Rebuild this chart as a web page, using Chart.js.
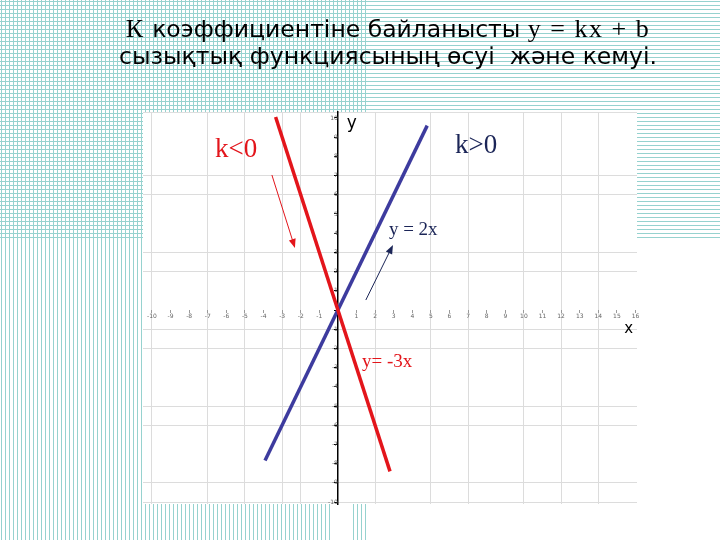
<!DOCTYPE html>
<html>
<head>
<meta charset="utf-8">
<script src="https://cdn.jsdelivr.net/npm/chart.js@4.4.0/dist/chart.umd.min.js"></script>
<style>
html, body { margin: 0; padding: 0; background: #fff; }
#marco { width: 720px; height: 540px; }
</style>
</head>
<body>
<div id="marco"><canvas id="grafico"></canvas></div>
<script>
// Rectas (extremos de cada segmento)
const rojaX = [-3.35, 2.8];
const rojaY = [10.05, -8.4];
const azulX = [-3.92, 4.8];
const azulY = [-7.84, 9.6];

// Valores donde se ve la cuadrícula gris
const cuadX = [-10, -7, -5, -3, -2, 2, 5, 7, 10, 12, 14];
const cuadY = [7, 6, 3, 2, -1, -2, -5, -6, -9, -10];

// Textos
const titulo1 = [['К', 'serif'], [' коэффициентіне байланысты ', 'sans'], ['y = kx + b', 'serif']];
const titulo2 = 'сызықтық функциясының өсуі  және кемуі.';

const ROJO = '#e3151b';
const AZUL = '#3d3b9e';
const MARINO = '#1b2557';
const SERIF = '"Liberation Serif", "DejaVu Serif", serif';
const SANS = '"DejaVu Sans", "Noto Sans", sans-serif';

// Etiquetas y flechas (en unidades de los ejes)
const notas = [
    { texto: 'k<0', x: -6.61, y: 7.97, color: ROJO, fuente: '27px ' + SERIF },
    { texto: 'k>0', x: 6.29, y: 8.18, color: MARINO, fuente: '27px ' + SERIF },
    { texto: 'y = 2x', x: 2.74, y: 3.9, color: MARINO, fuente: '19px ' + SERIF },
    { texto: 'y= -3x', x: 1.29, y: -2.97, color: ROJO, fuente: '19px ' + SERIF },
    { texto: 'y', x: 0.48, y: 9.48, color: '#000', fuente: '17px ' + SANS },
    { texto: 'x', x: 15.4, y: -1.2, color: '#000', fuente: '15px ' + SANS }
];
const flechas = [
    { desde: [-3.55, 7.03], hasta: [-2.31, 3.23], color: ROJO },
    { desde: [1.5, 0.52], hasta: [2.96, 3.39], color: MARINO }
];

function puntos(xs, ys) {
    return xs.map((x, i) => ({ x: x, y: ys[i] }));
}

// Fondo cuadriculado de la diapositiva
const fondo = {
    id: 'fondo',
    beforeDraw(chart) {
        const ctx = chart.ctx;
        const a = chart.chartArea;
        ctx.save();
        ctx.fillStyle = '#fff';
        ctx.fillRect(0, 0, chart.width, chart.height);
        ctx.strokeStyle = '#96d2cf';
        ctx.lineWidth = 1;
        ctx.beginPath();
        for (let x = 1.5; x < 368; x += 4) {
            if (x > 331 && x < 353) {
                ctx.moveTo(x, 0); ctx.lineTo(x, a.top);
            } else {
                ctx.moveTo(x, 0); ctx.lineTo(x, chart.height);
            }
        }
        for (let y = 1.5; y < 241; y += 4) {
            ctx.moveTo(0, y); ctx.lineTo(chart.width, y);
        }
        ctx.stroke();
        ctx.fillStyle = '#fff';
        ctx.fillRect(a.left, a.top, a.right - a.left, a.bottom - a.top);
        ctx.strokeStyle = '#dedede';
        ctx.beginPath();
        ctx.moveTo(a.left, a.top + 0.5); ctx.lineTo(a.right, a.top + 0.5);
        ctx.stroke();
        ctx.restore();
    }
};

// Título, etiquetas y flechas
const textos = {
    id: 'textos',
    afterDraw(chart) {
        const ctx = chart.ctx;
        const sx = chart.scales.x, sy = chart.scales.y;
        ctx.save();
        ctx.textBaseline = 'alphabetic';
        ctx.fillStyle = '#000';

        // primera línea del título con dos fuentes
        const fuentes = { serif: '26px ' + SERIF, sans: '23.5px ' + SANS };
        const espacio = { serif: '1.5px', sans: '0px' };
        let ancho = 0;
        titulo1.forEach(([t, f]) => {
            ctx.font = fuentes[f];
            ctx.letterSpacing = espacio[f];
            ancho += ctx.measureText(t).width;
        });
        let x = 388 - ancho / 2;
        titulo1.forEach(([t, f]) => {
            ctx.font = fuentes[f];
            ctx.letterSpacing = espacio[f];
            ctx.textAlign = 'left';
            ctx.fillText(t, x, 37);
            x += ctx.measureText(t).width;
        });
        ctx.letterSpacing = '0px';
        ctx.font = '23.5px ' + SANS;
        ctx.textAlign = 'center';
        ctx.fillText(titulo2, 388, 64);

        ctx.textAlign = 'left';
        notas.forEach(n => {
            ctx.font = n.fuente;
            ctx.fillStyle = n.color;
            ctx.fillText(n.texto, sx.getPixelForValue(n.x), sy.getPixelForValue(n.y));
        });

        flechas.forEach(f => {
            const x1 = sx.getPixelForValue(f.desde[0]), y1 = sy.getPixelForValue(f.desde[1]);
            const x2 = sx.getPixelForValue(f.hasta[0]), y2 = sy.getPixelForValue(f.hasta[1]);
            const ang = Math.atan2(y2 - y1, x2 - x1);
            ctx.strokeStyle = f.color;
            ctx.fillStyle = f.color;
            ctx.lineWidth = 1;
            ctx.beginPath();
            ctx.moveTo(x1, y1);
            ctx.lineTo(x2 - 6 * Math.cos(ang), y2 - 6 * Math.sin(ang));
            ctx.stroke();
            ctx.beginPath();
            ctx.moveTo(x2, y2);
            ctx.lineTo(x2 - 9 * Math.cos(ang) + 3.5 * Math.sin(ang), y2 - 9 * Math.sin(ang) - 3.5 * Math.cos(ang));
            ctx.lineTo(x2 - 9 * Math.cos(ang) - 3.5 * Math.sin(ang), y2 - 9 * Math.sin(ang) + 3.5 * Math.cos(ang));
            ctx.closePath();
            ctx.fill();
        });
        ctx.restore();
    }
};

function colorCuad(lista) {
    return ctx => (ctx.tick && lista.includes(ctx.tick.value)) ? '#dcdcdc' : 'rgba(0,0,0,0)';
}

new Chart(document.getElementById('grafico'), {
    type: 'line',
    data: {
        datasets: [
            {
                label: 'y = -3x',
                data: puntos(rojaX, rojaY),
                borderColor: ROJO,
                borderWidth: 3.5,
                pointRadius: 0,
                fill: false
            },
            {
                label: 'y = 2x',
                data: puntos(azulX, azulY),
                borderColor: AZUL,
                borderWidth: 3.5,
                pointRadius: 0,
                fill: false
            }
        ]
    },
    options: {
        responsive: true,
        maintainAspectRatio: false,
        animation: false,
        layout: { padding: { left: 143, top: 112, right: 83, bottom: 36 } },
        plugins: { legend: { display: false }, tooltip: { enabled: false } },
        scales: {
            x: {
                type: 'linear',
                min: -10.48,
                max: 16.08,
                position: { y: 0 },
                border: { display: false },
                grid: { color: colorCuad(cuadX), tickColor: '#9a9a9a', tickLength: 3 },
                ticks: {
                    stepSize: 1,
                    includeBounds: false,
                    autoSkip: false,
                    maxRotation: 0,
                    padding: 0,
                    font: { size: 6, family: SANS },
                    color: '#666',
                    callback: v => v === 0 ? '' : v
                }
            },
            y: {
                type: 'linear',
                min: -10.1,
                max: 10.31,
                position: { x: 0 },
                border: { display: true, color: '#000', width: 1.5 },
                grid: { color: colorCuad(cuadY), tickColor: '#000', tickLength: 3 },
                ticks: {
                    stepSize: 1,
                    includeBounds: false,
                    autoSkip: false,
                    padding: 1,
                    font: { size: 6, family: SANS },
                    color: '#666',
                    callback: v => v === 0 ? '' : v
                }
            }
        }
    },
    plugins: [fondo, textos]
});
</script>
</body>
</html>
